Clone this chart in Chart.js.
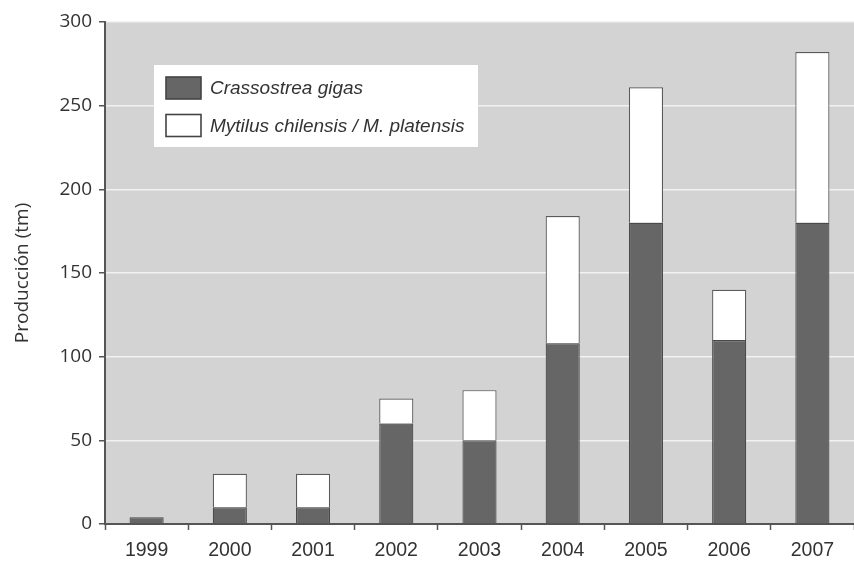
<!DOCTYPE html>
<html>
<head>
<meta charset="utf-8">
<script src="https://cdn.jsdelivr.net/npm/chart.js@4/dist/chart.umd.min.js"></script>
<style>
html,body{margin:0;padding:0;background:#fff;}
#wrap{width:854px;height:562px;}
</style>
</head>
<body>
<div id="wrap"><canvas id="prodChart" width="854" height="562"></canvas></div>
<script>
// ================================
// Producción anual (tm)
// ================================

const years=["1999","2000","2001","2002","2003","2004","2005","2006","2007"];

const ostra=[4,10,10,60,50,108,180,110,180];

const mejillon=[0,20,20,15,30,76,81,30,102];

const seriesNames=["Crassostrea gigas","Mytilus chilensis / M. platensis"];

const yTicks=[0,50,100,150,200,250,300];

// ================================
// Fondo gris del área de datos
// ================================

const plotBackground={

id:"plotBackground",

beforeDraw(chart){

const a=chart.chartArea;
const ctx=chart.ctx;

ctx.save();
ctx.fillStyle="#d3d3d3";
ctx.fillRect(a.left,a.top,a.right-a.left,a.bottom-a.top);
ctx.restore();

}

};

// ================================
// Leyenda dentro del gráfico
// ================================

const boxLegend={

id:"boxLegend",

afterDraw(chart){

const a=chart.chartArea;
const ctx=chart.ctx;

const x=a.left+49;
const y=a.top+43;

ctx.save();

ctx.fillStyle="#ffffff";
ctx.fillRect(x,y,324,82);

chart.data.datasets.forEach(function(ds,i){

const sy=y+12+i*37.5;

ctx.fillStyle=ds.backgroundColor;
ctx.fillRect(x+12,sy,35,22);

ctx.strokeStyle="#444";
ctx.lineWidth=1.6;
ctx.strokeRect(x+12,sy,35,22);

ctx.fillStyle="#333";
ctx.font="italic 19px 'Liberation Sans', Arial, sans-serif";
ctx.textBaseline="middle";
ctx.fillText(ds.label,x+56,sy+12);

});

ctx.restore();

}

};

// ================================
// Gráfico de barras apiladas
// ================================

const prodChart=new Chart(

document.getElementById("prodChart"),

{

type:"bar",

data:{

labels:years,

datasets:[

{

label:seriesNames[0],

data:ostra,

backgroundColor:"#666666",

borderColor:"#4a4a4a",

borderWidth:1.2,

borderSkipped:"bottom"

},

{

label:seriesNames[1],

data:mejillon,

backgroundColor:"#ffffff",

borderColor:"#5a5a5a",

borderWidth:1.2,

borderSkipped:"bottom"

}

]

},

options:{

responsive:false,

animation:false,

layout:{

padding:{top:22,right:0,left:0,bottom:0}

},

datasets:{

bar:{

categoryPercentage:1,

barPercentage:0.41

}

},

plugins:{

legend:{display:false},

tooltip:{enabled:false}

},

scales:{

x:{

stacked:true,

offset:true,

afterFit(scale){ scale.height=38; },

border:{color:"#555",width:2},

grid:{

offset:true,

drawOnChartArea:false,

tickColor:"#555",

tickWidth:1.5,

tickLength:6

},

ticks:{

color:"#333",

padding:9,

font:{family:"'Liberation Sans', Arial, sans-serif",size:19.5}

}

},

y:{

stacked:true,

min:0,

max:300,

afterFit(scale){ scale.width=105; },

afterBuildTicks(scale){

scale.ticks=yTicks.map(function(v){ return {value:v}; });

},

border:{color:"#555",width:2},

grid:{

color:function(c){ return c.tick.value===0 ? "rgba(0,0,0,0)" : "#f2f2f2"; },

lineWidth:1.5,

tickColor:"#555",

tickWidth:1.5,

tickLength:6

},

ticks:{

color:"#333",

padding:7,

font:{family:"'Open Sans', sans-serif",size:19}

},

title:{

display:true,

text:"Producción (tm)",

color:"#333",

padding:{top:11,bottom:0},

font:{family:"'Open Sans', sans-serif",size:19}

}

}

}

},

plugins:[plotBackground,boxLegend]

}

);
</script>
</body>
</html>
